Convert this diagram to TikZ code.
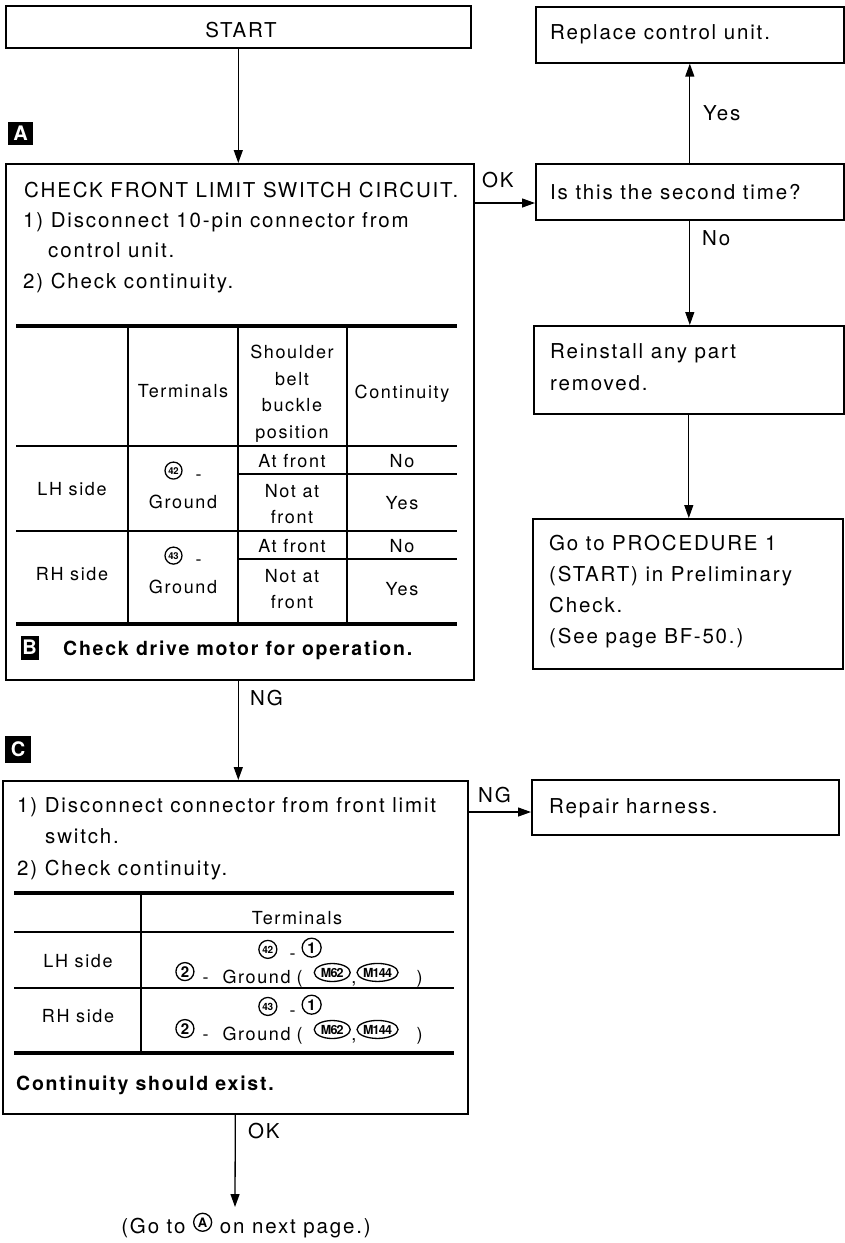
\documentclass[tikz,border=0pt]{standalone}
\usepackage{fontspec}
\setmainfont{TeX Gyre Heros}[LetterSpace=9]
\usetikzlibrary{arrows.meta,shapes.geometric}
\newcommand\mainsz{\fontsize{20.5}{31}\selectfont}
\newcommand\boldsz{\fontsize{19.5}{31}\selectfont\bfseries}
\newcommand\tabsz{\fontsize{18}{26}\selectfont}
\newcommand\cnum[3][17]{\tikz[baseline=-6pt]\node[draw,circle,line width=1.3pt,inner sep=0pt,minimum size=#1pt,font=\fontsize{#2}{#2}\selectfont\bfseries\addfontfeature{LetterSpace=-4}]{#3};}
\newcommand\cell[2]{\tikz[baseline=-6pt]\node[draw,ellipse,line width=1.3pt,inner sep=0pt,minimum width=#1pt,minimum height=18pt,font=\fontsize{12.5}{12.5}\selectfont\bfseries\addfontfeature{LetterSpace=-6}]{#2};}
\newcommand\gline{\cnum[18]{15}{2}\hspace{8pt}-\hspace{14pt}Ground\hspace{6pt}(\hspace{11pt}\cell{36}{M62}\hspace{0.5pt},\cell{40}{M144}\hspace{18pt})}
\tikzset{
  box/.style={draw, line width=1.6pt, inner sep=0pt, anchor=north west},
  txt/.style={anchor=base west, inner sep=0pt, font=\mainsz},
  btxt/.style={anchor=base west, inner sep=0pt, font=\boldsz},
  ctxt/.style={anchor=base, inner sep=0pt, font=\tabsz},
  arr/.style={line width=1.3pt, -{Triangle[length=13pt,width=9pt]}},
  rulethick/.style={line width=3.5pt},
  rulethin/.style={line width=1.4pt},
  lab/.style={fill=black, text=white, font=\fontsize{20}{20}\selectfont\bfseries\addfontfeature{LetterSpace=0}, inner sep=0pt, minimum width=25pt, minimum height=23pt}
}
\begin{document}
\begin{tikzpicture}[x=1pt,y=-1pt]
\useasboundingbox (0,0) rectangle (844,1243);
% boxes
\node[box, minimum width=465pt, minimum height=42pt] (start) at (5,5) {};
\node[box, minimum width=468pt, minimum height=516pt] (boxA) at (5,163) {};
\node[box, minimum width=465pt, minimum height=333pt] (boxC) at (2,780) {};
\node[box, minimum width=308pt, minimum height=56pt] (replace) at (535,6) {};
\node[box, minimum width=308pt, minimum height=56pt] (isbox) at (535,163) {};
\node[box, minimum width=310pt, minimum height=88pt] (reinstall) at (533,325) {};
\node[box, minimum width=310pt, minimum height=150pt] (goto) at (532,518) {};
\node[box, minimum width=307pt, minimum height=55pt] (repair) at (531,779) {};
% texts in simple boxes
\node[ctxt, font=\mainsz] (tstart) at (241,37) {START};
\node[txt] (trepl) at (550,39) {Replace control unit.};
\node[txt] (tis) at (550,199) {Is this the second time?};
\node[txt] (tre1) at (550,358) {Reinstall any part};
\node[txt] (tre2) at (550,390) {removed.};
\node[txt] (tgo1) at (549,550) {Go to PROCEDURE 1};
\node[txt] (tgo2) at (549,581) {(START) in Preliminary};
\node[txt] (tgo3) at (549,612) {Check.};
\node[txt] (tgo4) at (549,643) {(See page BF-50.)};
\node[txt] (trep) at (549,813) {Repair harness.};
% box A
\node[lab] (labA) at (20.5,133) {A};
\node[txt] (ta1) at (24,197) {CHECK FRONT LIMIT SWITCH CIRCUIT.};
\node[txt] (ta2) at (23,227) {1) Disconnect 10-pin connector from};
\node[txt] (ta3) at (48,257) {control unit.};
\node[txt] (ta4) at (23,288) {2) Check continuity.};
\draw[rulethick] (16,326) -- (457,326);
\draw[rulethin] (16,446) -- (457,446);
\draw[rulethin] (238,474) -- (457,474);
\draw[rulethin] (16,531) -- (457,531);
\draw[rulethin] (238,559) -- (457,559);
\draw[rulethick] (16,624) -- (457,624);
\foreach \xx in {128,238,347} \draw[rulethin] (\xx,326) -- (\xx,624);
\node[ctxt] (h1) at (183,397) {Terminals};
\node[ctxt] (h2a) at (292,358) {Shoulder};
\node[ctxt] (h2b) at (292,385) {belt};
\node[ctxt] (h2c) at (292,411) {buckle};
\node[ctxt] (h2d) at (292,438) {position};
\node[ctxt] (h3) at (402,398) {Continuity};
\node[ctxt] (lh) at (72,495) {LH side};
\node[ctxt] (lht1) at (183,480) {\cnum[17]{9.5}{42}\hspace{13pt}-};
\node[ctxt] (lht2) at (183,508) {Ground};
\node[ctxt] (lhp1) at (292,467) {At front};
\node[ctxt] (lhc1) at (402,467) {No};
\node[ctxt] (lhp2) at (292,497) {Not at};
\node[ctxt] (lhp3) at (292,523) {front};
\node[ctxt] (lhc2) at (402,509) {Yes};
\node[ctxt] (rh) at (72,580) {RH side};
\node[ctxt] (rht1) at (183,565) {\cnum[17]{9.5}{43}\hspace{13pt}-};
\node[ctxt] (rht2) at (183,593) {Ground};
\node[ctxt] (rhp1) at (292,552) {At front};
\node[ctxt] (rhc1) at (402,552) {No};
\node[ctxt] (rhp2) at (292,582) {Not at};
\node[ctxt] (rhp3) at (292,608) {front};
\node[ctxt] (rhc2) at (402,595) {Yes};
\node[lab, minimum width=18pt, minimum height=24pt] (labB) at (29.5,647.5) {B};
\node[btxt] (tb) at (63,655) {Check drive motor for operation.};
% box C
\node[lab, minimum width=26pt, minimum height=27pt] (labC) at (18,749) {C};
\node[txt] (tc1) at (17,812) {1) Disconnect connector from front limit};
\node[txt] (tc2) at (45,843) {switch.};
\node[txt] (tc3) at (17,875) {2) Check continuity.};
\draw[rulethick] (14,893) -- (454,893);
\draw[rulethin] (14,932) -- (454,932);
\draw[rulethin] (14,988) -- (454,988);
\draw[rulethick] (14,1053) -- (454,1053);
\draw[rulethin] (141,893) -- (141,1053);
\node[ctxt] (ch) at (297,924) {Terminals};
\node[ctxt] (clh) at (78,967) {LH side};
\node[ctxt] (crh) at (78,1022) {RH side};
\node[ctxt] (cl1) at (290,959) {\cnum[18]{10}{42}\hspace{12pt}-\hspace{6pt}\cnum[19]{15}{1}};
\node[ctxt] (cl2) at (299,983) {\gline};
\node[ctxt] (cr1) at (290,1016) {\cnum[18]{10}{43}\hspace{12pt}-\hspace{6pt}\cnum[19]{15}{1}};
\node[ctxt] (cr2) at (299,1040) {\gline};
\node[btxt] (tcs) at (16,1090) {Continuity should exist.};
% bottom text
\node[ctxt, font=\mainsz] (gotxt) at (246,1233) {(Go to \cnum[18]{13}{A} on next page.)};
% connector labels
\node[txt] (lyes) at (703,120) {Yes};
\node[txt] (lno) at (702,245) {No};
\node[txt] (lokA) at (482,187) {OK};
\node[txt] (lngA) at (250,705) {NG};
\node[txt] (lngC) at (478,802) {NG};
\node[txt] (lokC) at (248,1138) {OK};
% connectors
\coordinate (okA) at (0,203);
\coordinate (ngC) at (0,812);
\coordinate (endC) at (235,1207);
\draw[arr] (start.south) -- (start.south |- boxA.north);
\draw[arr] (boxA.east |- okA) -- (isbox.west |- okA);
\draw[arr] (isbox.north) -- (replace.south);
\draw[arr] (isbox.south) -- (isbox.south |- reinstall.north);
\draw[arr] (reinstall.south) -- (reinstall.south |- goto.north);
\draw[arr] (start.south |- boxA.south) -- (start.south |- boxC.north);
\draw[arr] (boxC.east |- ngC) -- (repair.west |- ngC);
\draw[arr] (boxC.south) -- (endC);
\end{tikzpicture}
\end{document}
